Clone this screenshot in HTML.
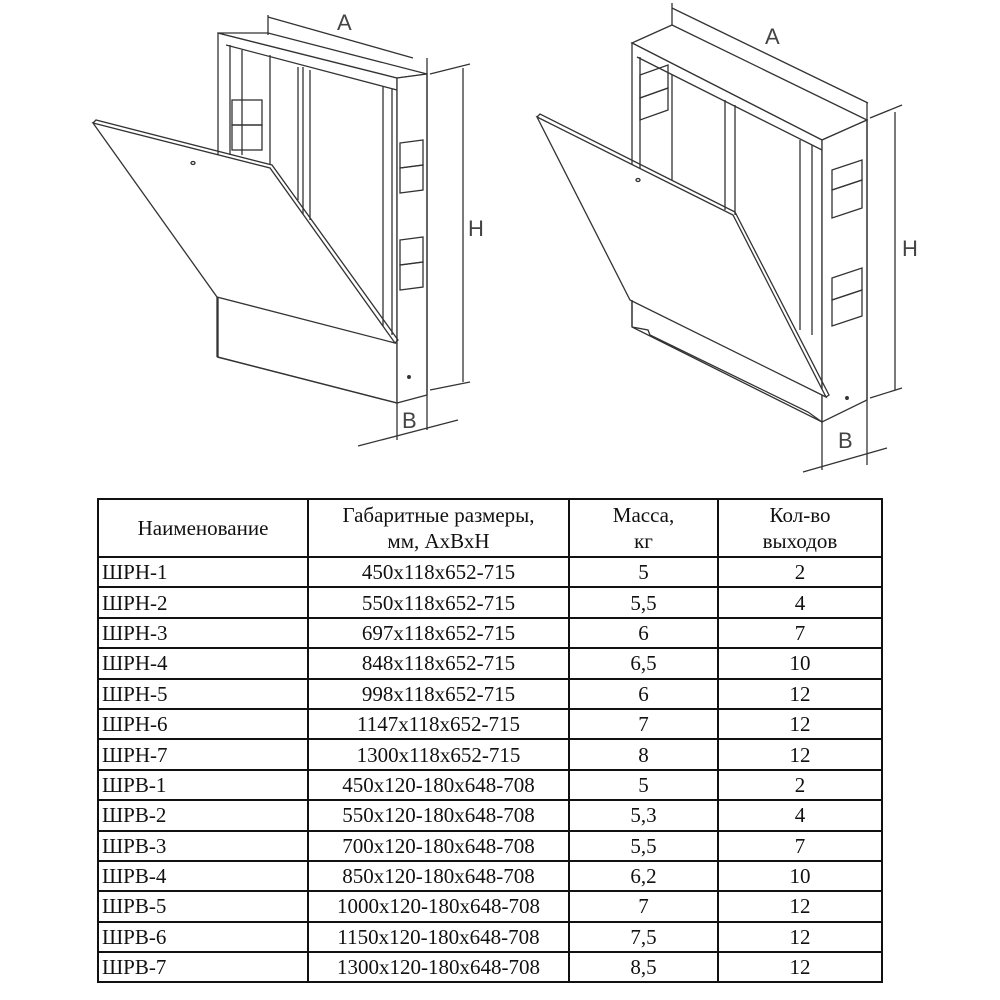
<!DOCTYPE html>
<html><head><meta charset="utf-8"><style>
body{margin:0;background:#fff;width:1000px;height:1000px;position:relative;overflow:hidden}
svg{position:absolute;left:0;top:0}
table{position:absolute;left:97px;top:498px;border-collapse:collapse;font-family:"Liberation Serif",serif;font-size:21px;color:#111}
td{border:2px solid #111;padding:0 3px;height:28.4px;line-height:22px;text-align:center}
td:first-child{text-align:left}
tr.h td{height:56px;text-align:center;line-height:26px}
</style></head><body>
<svg width="1000" height="490" viewBox="0 0 1000 490" fill="none" stroke="#333" stroke-width="1.3" font-family="Liberation Sans,sans-serif">
<g>
<polygon points="218,33 397,78 397,403 218,357" fill="#fff"/>
<polygon points="218,33 268,33 427,74 397,78" fill="#fff"/>
<polygon points="397,78 427,74 427,395 397,403" fill="#fff"/>
<line x1="226" y1="45" x2="397" y2="90"/>
<line x1="230" y1="45" x2="230" y2="155"/>
<line x1="242" y1="50" x2="242" y2="155"/>
<line x1="270" y1="55" x2="270" y2="165"/>
<line x1="298" y1="67" x2="298" y2="200"/>
<line x1="303" y1="67" x2="303" y2="220"/>
<line x1="310" y1="70" x2="310" y2="220"/>
<line x1="383" y1="87" x2="383" y2="330"/>
<line x1="392" y1="89" x2="392" y2="335"/>
<rect x="232" y="100" width="30" height="25"/><rect x="232" y="125" width="30" height="25"/>
<polygon points="400,143 423,140 423,165 400,168"/><polygon points="400,168 423,165 423,190 400,193"/>
<polygon points="400,240 423,237 423,262 400,265"/><polygon points="400,265 423,262 423,287 400,290"/>
<polygon points="93,123 270,168 395,343 217,297" fill="#fff"/>
<polyline points="93,123 96,120 272,165 398,340 395,343"/>
<ellipse cx="193" cy="163" rx="2" ry="1.5"/>
<line x1="217" y1="297" x2="217" y2="357"/>
<line x1="217" y1="357" x2="397" y2="403"/>
<circle cx="409" cy="377" r="1.3" fill="#333"/>
<line x1="268" y1="15" x2="268" y2="35"/>
<line x1="268" y1="17" x2="413" y2="58"/>
<line x1="427" y1="58" x2="427" y2="430"/>
<line x1="430" y1="74" x2="470" y2="64"/>
<line x1="430" y1="390" x2="470" y2="382"/>
<line x1="463" y1="68" x2="463" y2="382"/>
<line x1="397" y1="403" x2="397" y2="440"/>
<line x1="358" y1="446" x2="458" y2="420"/>
<text x="337" y="30" font-size="22" fill="#444" stroke="none">A</text>
<text x="468" y="236" font-size="22" fill="#444" stroke="none">H</text>
<text x="402" y="428" font-size="22" fill="#444" stroke="none">B</text>
</g>
<g>
<polygon points="632,43 672,25 867,120 822,140" fill="#fff"/>
<polygon points="632,43 822,140 822,422 632,327" fill="#fff"/>
<polygon points="822,140 867,120 867,400 822,422" fill="#fff"/>
<line x1="637" y1="57" x2="822" y2="150"/>
<line x1="640" y1="57" x2="640" y2="300"/>
<line x1="672" y1="75" x2="672" y2="180"/>
<line x1="725" y1="100" x2="725" y2="210"/>
<line x1="735" y1="105" x2="735" y2="215"/>
<line x1="800" y1="140" x2="800" y2="330"/>
<line x1="812" y1="145" x2="812" y2="335"/>
<polygon points="640,75 668,65 668,88 640,98"/><polygon points="640,98 668,88 668,110 640,120"/>
<polygon points="832,170 862,160 862,180 832,190"/><polygon points="832,190 862,180 862,208 832,218"/>
<polygon points="832,278 862,268 862,290 832,300"/><polygon points="832,300 862,290 862,316 832,326"/>
<polygon points="537,117 733,215 826,397 630,300" fill="#fff"/>
<polyline points="537,117 540,114 735,212 829,395 826,397"/>
<ellipse cx="638" cy="180" rx="2" ry="1.5"/>
<line x1="632" y1="300" x2="632" y2="327"/>
<polyline points="632,327 648,330 650,335 808,412 822,422"/>
<circle cx="847" cy="398" r="1.3" fill="#333"/>
<line x1="672" y1="3" x2="672" y2="25"/>
<line x1="672" y1="8" x2="868" y2="103"/>
<line x1="867" y1="103" x2="867" y2="465"/>
<line x1="870" y1="118" x2="902" y2="105"/>
<line x1="870" y1="398" x2="902" y2="388"/>
<line x1="895" y1="112" x2="895" y2="390"/>
<line x1="822" y1="422" x2="822" y2="470"/>
<line x1="803" y1="472" x2="887" y2="448"/>
<text x="765" y="44" font-size="22" fill="#444" stroke="none">A</text>
<text x="902" y="256" font-size="22" fill="#444" stroke="none">H</text>
<text x="838" y="448" font-size="22" fill="#444" stroke="none">B</text>
</g>
</svg>
<table>
<colgroup><col style="width:210px"><col style="width:261px"><col style="width:149px"><col style="width:164px"></colgroup>
<tr class="h"><td style="text-align:center">Наименование</td><td>Габаритные размеры,<br>мм, АхВхН</td><td>Масса,<br>кг</td><td>Кол-во<br>выходов</td></tr>
<tr><td>ШРН-1</td><td>450х118х652-715</td><td>5</td><td>2</td></tr>
<tr><td>ШРН-2</td><td>550х118х652-715</td><td>5,5</td><td>4</td></tr>
<tr><td>ШРН-3</td><td>697х118х652-715</td><td>6</td><td>7</td></tr>
<tr><td>ШРН-4</td><td>848х118х652-715</td><td>6,5</td><td>10</td></tr>
<tr><td>ШРН-5</td><td>998х118х652-715</td><td>6</td><td>12</td></tr>
<tr><td>ШРН-6</td><td>1147х118х652-715</td><td>7</td><td>12</td></tr>
<tr><td>ШРН-7</td><td>1300х118х652-715</td><td>8</td><td>12</td></tr>
<tr><td>ШРВ-1</td><td>450х120-180х648-708</td><td>5</td><td>2</td></tr>
<tr><td>ШРВ-2</td><td>550х120-180х648-708</td><td>5,3</td><td>4</td></tr>
<tr><td>ШРВ-3</td><td>700х120-180х648-708</td><td>5,5</td><td>7</td></tr>
<tr><td>ШРВ-4</td><td>850х120-180х648-708</td><td>6,2</td><td>10</td></tr>
<tr><td>ШРВ-5</td><td>1000х120-180х648-708</td><td>7</td><td>12</td></tr>
<tr><td>ШРВ-6</td><td>1150х120-180х648-708</td><td>7,5</td><td>12</td></tr>
<tr><td>ШРВ-7</td><td>1300х120-180х648-708</td><td>8,5</td><td>12</td></tr>
</table>
</body></html>
